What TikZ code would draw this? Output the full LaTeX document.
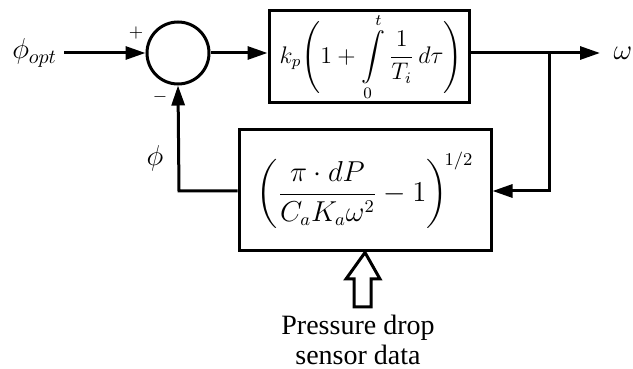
\documentclass[tikz,border=0pt]{standalone}
\usepackage{amsmath}
\usepackage{fontspec}
\setmainfont{Liberation Serif}
\usepackage{tikz}
\usetikzlibrary{arrows.meta, positioning, calc}

\tikzset{
    block/.style={draw, line width=1.5pt, inner sep=0pt},
    sumnode/.style={draw, circle, line width=1.5pt, minimum size=31pt, inner sep=0pt},
    sig/.style={line width=1.5pt, -{Triangle[length=10pt, width=6.5pt]}},
    wire/.style={line width=1.5pt},
    lbl/.style={font=\fontsize{14}{15}\selectfont},
}

\begin{document}
\begin{tikzpicture}[x=0.5pt, y=-0.5pt]
        \useasboundingbox (0,0) rectangle (633,369);

        % summing junction and PI controller
        \node[sumnode] (sum) at (178,53) {};
        \node[block, minimum width=100pt, minimum height=46pt] (pi) at (369,57)
            {\fontsize{12}{14}\selectfont $\displaystyle \,k_{p}\Biggl(1+\int\limits_{0}^{t}\frac{1}{T_{i}}\,d\tau\Biggr)$};

        % feedback block
        \node[block, minimum width=126pt, minimum height=60.5pt] (fb) at (365,190.5)
            {\fontsize{13.5}{15}\selectfont $\displaystyle \left(\frac{\pi\cdot dP}{C_{a}K_{a}\omega^{2}}-1\right)^{\!1/2}$};

        % signals
        \node[lbl, anchor=east] (phiopt) at (64,53) {$\phi_{opt}$};
        \node[lbl] (omega) at (623,53) {$\omega$};
        \node[lbl] (phi) at (155,158) {$\phi$};
        \node[font=\small] (plus) at (136,33) {$+$};
        \node[font=\small] (minus) at (160,97) {$-$};
        \coordinate (out) at (600,53);
        \coordinate (branch) at (549,53);
        \coordinate (back) at (549,191);
        \coordinate (fbl) at (179,191);

        \draw[sig] (phiopt.east) -- (sum.west);
        \draw[sig] (sum.east) -- (pi.west |- sum.east);
        \draw[sig] (pi.east |- out) -- (out);
        \draw[sig] (branch) -- (back) -- (fb.east |- back);
        \draw[sig] (fb.west |- fbl) -- (fbl) -- (sum.south);

        % sensor input
        \node[lbl, align=center, inner sep=0pt] (sensor) at (358,340) {Pressure drop\\sensor data};
        \draw[wire, line join=miter, fill=white]
            (354,307) -- (354,279) -- (346,279) -- (fb.south) -- (380,279) -- (371,279) -- (371,307) -- cycle;
    \end{tikzpicture}
\end{document}
